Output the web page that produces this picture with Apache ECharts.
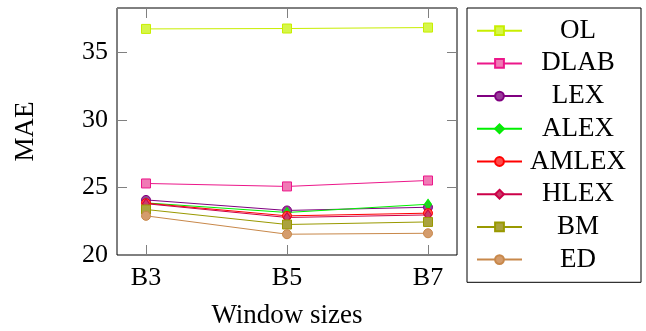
<!DOCTYPE html>
<html>
<head>
<meta charset="utf-8">
<script src="https://cdn.jsdelivr.net/npm/echarts@6/dist/echarts.min.js"></script>
<style>
  html, body { margin: 0; padding: 0; background: #fff; }
  #chart { width: 646px; height: 331px; }
</style>
</head>
<body>
<div id="chart"></div>
<script>
// Window sizes on the x axis
const categories = ['B3', 'B5', 'B7'];

// MAE per method and window size
const OL    = [36.75, 36.78, 36.85];
const DLAB  = [25.30, 25.08, 25.52];
const LEX   = [24.08, 23.30, 23.54];
const ALEX  = [23.86, 23.15, 23.76];
const AMLEX = [23.84, 22.90, 23.10];
const HLEX  = [23.80, 22.78, 22.97];
const BM    = [23.37, 22.26, 22.45];
const ED    = [22.90, 21.54, 21.61];

// value range of the MAE axis and its tick step
const yMin = 20, yMax = 38.3, yStep = 5;

const FONT = '"Liberation Serif", "Times New Roman", serif';

const seriesDefs = [
  { name: 'OL',    values: OL,    line: '#c8ee00', fill: '#d6f64a', symbol: 'rect',    size: 9 },
  { name: 'DLAB',  values: DLAB,  line: '#ec178a', fill: '#f07ab5', symbol: 'rect',    size: 9 },
  { name: 'LEX',   values: LEX,   line: '#800080', fill: '#9a3c9a', symbol: 'circle',  size: 9 },
  { name: 'ALEX',  values: ALEX,  line: '#00f000', fill: '#22d022', symbol: 'diamond', size: [7, 10] },
  { name: 'AMLEX', values: AMLEX, line: '#ff0000', fill: '#ff4a4a', symbol: 'circle',  size: 9 },
  { name: 'HLEX',  values: HLEX,  line: '#cc0048', fill: '#c83c6a', symbol: 'diamond', size: [7, 10] },
  { name: 'BM',    values: BM,    line: '#999900', fill: '#aaa23e', symbol: 'rect',    size: 9 },
  { name: 'ED',    values: ED,    line: '#c8884a', fill: '#d49c6c', symbol: 'circle',  size: 9 }
];

const chart = echarts.init(document.getElementById('chart'));

// fresh option pieces for every axis
const off = () => ({ show: false });
const tickLines = () => ({ show: true, lineStyle: { color: '#808080', width: 1 } });

// an axis that only scales its grid, drawing nothing
const bare = (gridIndex, min, max) => ({
  gridIndex, type: 'value', min, max,
  axisLine: off(), axisTick: off(), axisLabel: off(), splitLine: off()
});

// an axis whose split lines, confined to a 10px strip, act as inner ticks
const tickAxis = (gridIndex, min, max, interval) => ({
  gridIndex, type: 'value', min, max, interval,
  axisLine: off(), axisTick: off(), axisLabel: off(), splitLine: tickLines()
});

const nX = categories.length - 1;

chart.setOption({
  animation: false,
  backgroundColor: '#ffffff',
  grid: [
    // 0: data span, inset from the frame on both sides
    { left: 146, top: 8, right: 218, bottom: 76, outerBoundsMode: 'none' },
    // 1: framed plot box
    { left: 117, top: 8, right: 189, bottom: 76, outerBoundsMode: 'none', show: true, borderColor: '#000', borderWidth: 1 },
    // 2-5: thin strips along each side of the frame for the tick marks
    { left: 117, width: 10, top: 8, bottom: 76, outerBoundsMode: 'none' },
    { right: 189, width: 10, top: 8, bottom: 76, outerBoundsMode: 'none' },
    { left: 146, right: 218, bottom: 76, height: 10, outerBoundsMode: 'none' },
    { left: 146, right: 218, top: 8, height: 10, outerBoundsMode: 'none' }
  ],
  legend: {
    orient: 'vertical',
    left: 467, top: 8,
    padding: [9.2, 12, 9.2, 9],
    itemWidth: 45, itemHeight: 11, itemGap: 5.7,
    borderColor: '#000', borderWidth: 1, borderRadius: 0,
    backgroundColor: '#fff',
    selectedMode: false,
    formatter: name => '{c|' + name + '}',
    textStyle: {
      fontFamily: FONT, fontSize: 27, color: '#000',
      rich: { c: { width: 102, align: 'center', fontFamily: FONT, fontSize: 27, lineHeight: 27 } }
    },
    data: seriesDefs.map(d => d.name)
  },
  xAxis: [{
    gridIndex: 0, type: 'value', min: 0, max: nX, interval: 1,
    name: 'Window sizes', nameLocation: 'middle', nameGap: 47,
    nameTextStyle: { fontFamily: FONT, fontSize: 27, color: '#000' },
    axisLine: off(),
    axisTick: off(),
    axisLabel: {
      show: true, margin: 10, fontFamily: FONT, fontSize: 26, color: '#000',
      formatter: v => categories[Math.round(v)]
    },
    splitLine: off()
  },
    bare(1, 0, 1),
    bare(2, 0, 1),
    bare(3, 0, 1),
    tickAxis(4, 0, nX, 1),
    tickAxis(5, 0, nX, 1)
  ],
  yAxis: [
    bare(0, yMin, yMax),
  {
    gridIndex: 1, type: 'value', min: yMin, max: yMax, interval: yStep,
    name: 'MAE', nameLocation: 'middle', nameGap: 78, nameRotate: 90,
    nameTextStyle: { fontFamily: FONT, fontSize: 27, color: '#000' },
    axisLine: off(),
    axisTick: off(),
    axisLabel: { show: true, margin: 9, fontFamily: FONT, fontSize: 26, color: '#000', showMaxLabel: false },
    splitLine: off()
  },
    tickAxis(2, yMin, yMax, yStep),
    tickAxis(3, yMin, yMax, yStep),
    bare(4, 0, 1),
    bare(5, 0, 1)
  ],
  series: seriesDefs.map(d => ({
    name: d.name,
    type: 'line',
    xAxisIndex: 0, yAxisIndex: 0,
    data: categories.map((c, i) => [i, d.values[i]]),
    symbol: d.symbol,
    symbolSize: d.size,
    showSymbol: true,
    lineStyle: { color: d.line, width: 1 },
    itemStyle: { color: d.fill, borderColor: d.line, borderWidth: 1 },
    emphasis: { disabled: true }
  }))
});
</script>
</body>
</html>
